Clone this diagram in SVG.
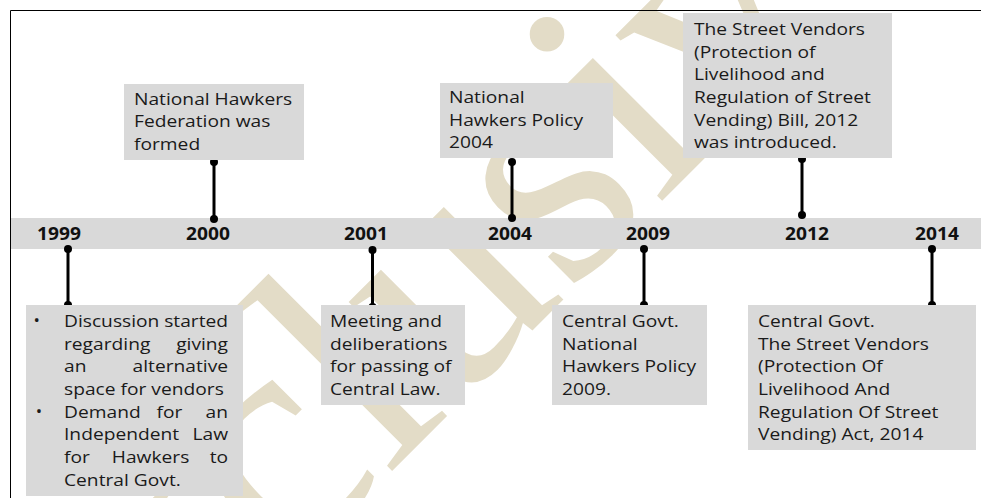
<svg xmlns="http://www.w3.org/2000/svg" width="981" height="498" viewBox="0 0 981 498">
  <style>
    .box { fill: #d9d9d9; }
    .txt { font-family: "Open Sans", "Liberation Sans", sans-serif; font-size: 17px; fill: #1a1a1a; }
    .year { font-family: "Open Sans", "Liberation Sans", sans-serif; font-size: 17px; font-weight: bold; fill: #111; text-anchor: middle; }
    .stem { stroke: #000; stroke-width: 3; }
    .dot { fill: #000; }
    .wm { font-family: "Liberation Serif", "DejaVu Serif", serif; font-size: 327px; fill: #e3dcc7; }
  </style>

  <rect width="981" height="498" fill="#fff"/>

  <!-- watermark -->
  <text class="wm" x="28" y="835" transform="rotate(-45 28 835)">Exclusive</text>

  <!-- frame -->
  <path d="M10.5 498 V10.5 H981" fill="none" stroke="#000" stroke-width="1"/>

  <!-- timeline band with year labels -->
  <g id="timeline">
    <rect x="11" y="218" width="970" height="31" class="box"/>
    <text class="year" transform="matrix(1.13 0 0 1 59 240)">1999</text>
    <text class="year" transform="matrix(1.13 0 0 1 208 240)">2000</text>
    <text class="year" transform="matrix(1.13 0 0 1 366 240)">2001</text>
    <text class="year" transform="matrix(1.13 0 0 1 510 240)">2004</text>
    <text class="year" transform="matrix(1.13 0 0 1 648 240)">2009</text>
    <text class="year" transform="matrix(1.13 0 0 1 807 240)">2012</text>
    <text class="year" transform="matrix(1.13 0 0 1 937 240)">2014</text>
  </g>

  <!-- connectors -->
  <g id="connectors">
    <line class="stem" x1="68" y1="249" x2="68" y2="305"/>
    <circle class="dot" cx="68" cy="249" r="4"/><circle class="dot" cx="68" cy="305" r="4"/>
    <line class="stem" x1="214" y1="162" x2="214" y2="219"/>
    <circle class="dot" cx="214" cy="162" r="4"/><circle class="dot" cx="214" cy="219" r="4"/>
    <line class="stem" x1="372.5" y1="250" x2="372.5" y2="307"/>
    <circle class="dot" cx="372.5" cy="250" r="4"/><circle class="dot" cx="372.5" cy="307" r="4"/>
    <line class="stem" x1="512" y1="162" x2="512" y2="218"/>
    <circle class="dot" cx="512" cy="162" r="4"/><circle class="dot" cx="512" cy="218" r="4"/>
    <line class="stem" x1="644" y1="249" x2="644" y2="305"/>
    <circle class="dot" cx="644" cy="249" r="4"/><circle class="dot" cx="644" cy="305" r="4"/>
    <line class="stem" x1="802" y1="159" x2="802" y2="215"/>
    <circle class="dot" cx="802" cy="159" r="4"/><circle class="dot" cx="802" cy="215" r="4"/>
    <line class="stem" x1="932" y1="249" x2="932" y2="305"/>
    <circle class="dot" cx="932" cy="249" r="4"/><circle class="dot" cx="932" cy="305" r="4"/>
  </g>

  <!-- 2000 -->
  <g id="n2000">
    <rect x="124" y="84" width="180" height="76" class="box"/>
    <text class="txt" transform="matrix(1.13 0 0 1 134 0)">
      <tspan x="0" y="105">National Hawkers</tspan>
      <tspan x="0" y="127.5">Federation was</tspan>
      <tspan x="0" y="150">formed</tspan>
    </text>
  </g>

  <!-- 2004 -->
  <g id="n2004">
    <rect x="440" y="83" width="173" height="75" class="box"/>
    <text class="txt" transform="matrix(1.13 0 0 1 449 0)">
      <tspan x="0" y="103">National</tspan>
      <tspan x="0" y="125.7">Hawkers Policy</tspan>
      <tspan x="0" y="148.4">2004</tspan>
    </text>
  </g>

  <!-- 2012 -->
  <g id="n2012">
    <rect x="683" y="13" width="209" height="145" class="box"/>
    <text class="txt" transform="matrix(1.13 0 0 1 694 0)">
      <tspan x="0" y="35">The Street Vendors</tspan>
      <tspan x="0" y="57.7">(Protection of</tspan>
      <tspan x="0" y="80.4">Livelihood and</tspan>
      <tspan x="0" y="103">Regulation of Street</tspan>
      <tspan x="0" y="125.7">Vending) Bill, 2012</tspan>
      <tspan x="0" y="148.4">was introduced.</tspan>
    </text>
  </g>

  <!-- 1999: justified bullet list -->
  <g id="n1999">
    <rect x="26" y="305" width="217" height="191" class="box"/>
    <text class="txt" text-anchor="middle">
      <tspan x="39" y="326">•</tspan>
      <tspan x="39" y="417">•</tspan>
    </text>
    <text class="txt" transform="matrix(1.13 0 0 1 64 0)">
      <tspan x="0" y="327">Discussion</tspan>
      <tspan x="149.6" y="327" text-anchor="end">started</tspan>
      <tspan x="0" y="349.7">regarding</tspan>
      <tspan x="149.6" y="349.7" text-anchor="end">giving</tspan>
      <tspan x="0" y="372.4">an</tspan>
      <tspan x="149.6" y="372.4" text-anchor="end">alternative</tspan>
      <tspan x="0" y="395.1">space for vendors</tspan>
      <tspan x="0" y="417.8">Demand</tspan>
      <tspan x="95.6" y="417.8" text-anchor="middle">for</tspan>
      <tspan x="149.6" y="417.8" text-anchor="end">an</tspan>
      <tspan x="0" y="440.5">Independent</tspan>
      <tspan x="149.6" y="440.5" text-anchor="end">Law</tspan>
      <tspan x="0" y="463.2">for</tspan>
      <tspan x="78.8" y="463.2" text-anchor="middle">Hawkers</tspan>
      <tspan x="149.6" y="463.2" text-anchor="end">to</tspan>
      <tspan x="0" y="485.9">Central Govt.</tspan>
    </text>
  </g>

  <!-- 2001 -->
  <g id="n2001">
    <rect x="321" y="305" width="144" height="100" class="box"/>
    <text class="txt" transform="matrix(1.13 0 0 1 330 0)">
      <tspan x="0" y="327">Meeting and</tspan>
      <tspan x="0" y="349.7">deliberations</tspan>
      <tspan x="0" y="372.4">for passing of</tspan>
      <tspan x="0" y="395.1">Central Law.</tspan>
    </text>
  </g>

  <!-- 2009 -->
  <g id="n2009">
    <rect x="552" y="305" width="155" height="100" class="box"/>
    <text class="txt" transform="matrix(1.13 0 0 1 562 0)">
      <tspan x="0" y="327">Central Govt.</tspan>
      <tspan x="0" y="349.7">National</tspan>
      <tspan x="0" y="372.4">Hawkers Policy</tspan>
      <tspan x="0" y="395.1">2009.</tspan>
    </text>
  </g>

  <!-- 2014 -->
  <g id="n2014">
    <rect x="748" y="305" width="228" height="145" class="box"/>
    <text class="txt" transform="matrix(1.13 0 0 1 758 0)">
      <tspan x="0" y="327">Central Govt.</tspan>
      <tspan x="0" y="349.7">The Street Vendors</tspan>
      <tspan x="0" y="372.4">(Protection Of</tspan>
      <tspan x="0" y="395.1">Livelihood And</tspan>
      <tspan x="0" y="417.8">Regulation Of Street</tspan>
      <tspan x="0" y="440.5">Vending) Act, 2014</tspan>
    </text>
  </g>
</svg>
